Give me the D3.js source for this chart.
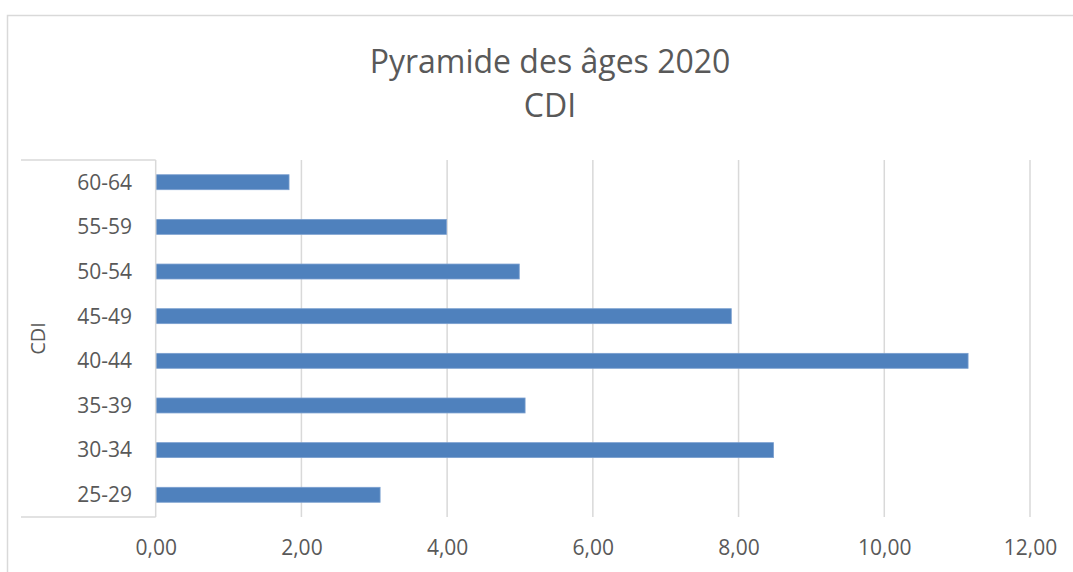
<!DOCTYPE html>
<html lang="fr">
<head>
<meta charset="UTF-8">
<script src="https://d3js.org/d3.v7.min.js"></script>
<title>Pyramide des âges 2020</title>
<style>
    body { margin: 0; padding: 0; background: #fff; }
    svg { display: block; font-family: "Open Sans", sans-serif; }
    .grid line { stroke: #d9d9d9; stroke-width: 1.5; }
    .txt { fill: #595959; }
</style>
</head>
<body>
<div id="chart"></div>
<script>
    // donnees
    let categories = ["60-64", "55-59", "50-54", "45-49", "40-44", "35-39", "30-34", "25-29"]
    let valeurs = [1.83, 3.99, 4.99, 7.90, 11.15, 5.07, 8.48, 3.08]
    let xTicks = [0, 2, 4, 6, 8, 10, 12]
    let titre = ["Pyramide des âges 2020", "CDI"]
    let groupe = "CDI"

    let W = 1073, H = 572
    let m = { left: 155.7, right: 1030, top: 160, bottom: 517 }

    let svg = d3.select("#chart").append("svg")
        .attr("width", W).attr("height", H)

    // cadre
    svg.append("rect")
        .attr("x", 7.5).attr("y", 15.5)
        .attr("width", 1080).attr("height", 600)
        .attr("fill", "#fff").attr("stroke", "#d9d9d9").attr("stroke-width", 1.5)

    let fr = d3.formatLocale({ decimal: ",", thousands: " ", grouping: [3], currency: ["", " €"] })
    let fmt = fr.format(".2f")

    let x = d3.scaleLinear().domain([0, 12]).range([m.left, m.right])
    let y = d3.scaleBand().domain(categories).range([m.top, m.bottom]).paddingInner(0.665).paddingOuter(0.33)

    // grille verticale
    svg.append("g").attr("class", "grid")
        .selectAll("line").data(xTicks.filter(d => d > 0)).enter().append("line")
        .attr("x1", d => x(d)).attr("x2", d => x(d))
        .attr("y1", m.top).attr("y2", m.bottom)

    // barres
    svg.selectAll(".bar").data(categories).enter().append("rect")
        .attr("class", "bar")
        .attr("x", x(0))
        .attr("y", d => y(d))
        .attr("width", (d, i) => x(valeurs[i]) - x(0))
        .attr("height", y.bandwidth())
        .attr("fill", "#4f81bd")
        .attr("stroke", "#7a9fcf").attr("stroke-width", 0.8)

    // axe vertical + crochets du niveau "CDI"
    let ax = svg.append("g").attr("stroke", "#d9d9d9").attr("stroke-width", 1.5)
    ax.append("line").attr("x1", m.left).attr("x2", m.left).attr("y1", m.top).attr("y2", m.bottom)
    ax.append("line").attr("x1", 21).attr("x2", m.left).attr("y1", m.top).attr("y2", m.top)
    ax.append("line").attr("x1", 21).attr("x2", m.left).attr("y1", m.bottom).attr("y2", m.bottom)

    // etiquettes des categories
    let yAxis = d3.axisLeft(y).tickSize(0).tickPadding(0)
    let gy = svg.append("g").attr("transform", "translate(132,0)").call(yAxis)
    gy.select(".domain").remove()
    gy.selectAll("text").attr("class", "txt").attr("font-size", 21).attr("dy", "0.35em")
        .attr("font-family", "'Open Sans', sans-serif")

    svg.append("text").attr("class", "txt")
        .attr("transform", "translate(45," + ((m.top + m.bottom) / 2) + ") rotate(-90)")
        .attr("text-anchor", "middle").attr("font-size", 20)
        .text(groupe)

    // axe horizontal
    let xAxis = d3.axisBottom(x).tickValues(xTicks).tickFormat(fmt).tickSize(0).tickPadding(0)
    let gx = svg.append("g").attr("transform", "translate(0,555)").call(xAxis)
    gx.select(".domain").remove()
    gx.selectAll("text").attr("class", "txt").attr("font-size", 21).attr("dy", 0)
        .attr("font-family", "'Open Sans', sans-serif")

    // titre
    svg.selectAll(".titre").data(titre).enter().append("text")
        .attr("class", "txt titre")
        .attr("x", 550)
        .attr("y", (d, i) => 73 + i * 44)
        .attr("text-anchor", "middle")
        .attr("font-size", 32)
        .text(d => d)
</script>
</body>
</html>
